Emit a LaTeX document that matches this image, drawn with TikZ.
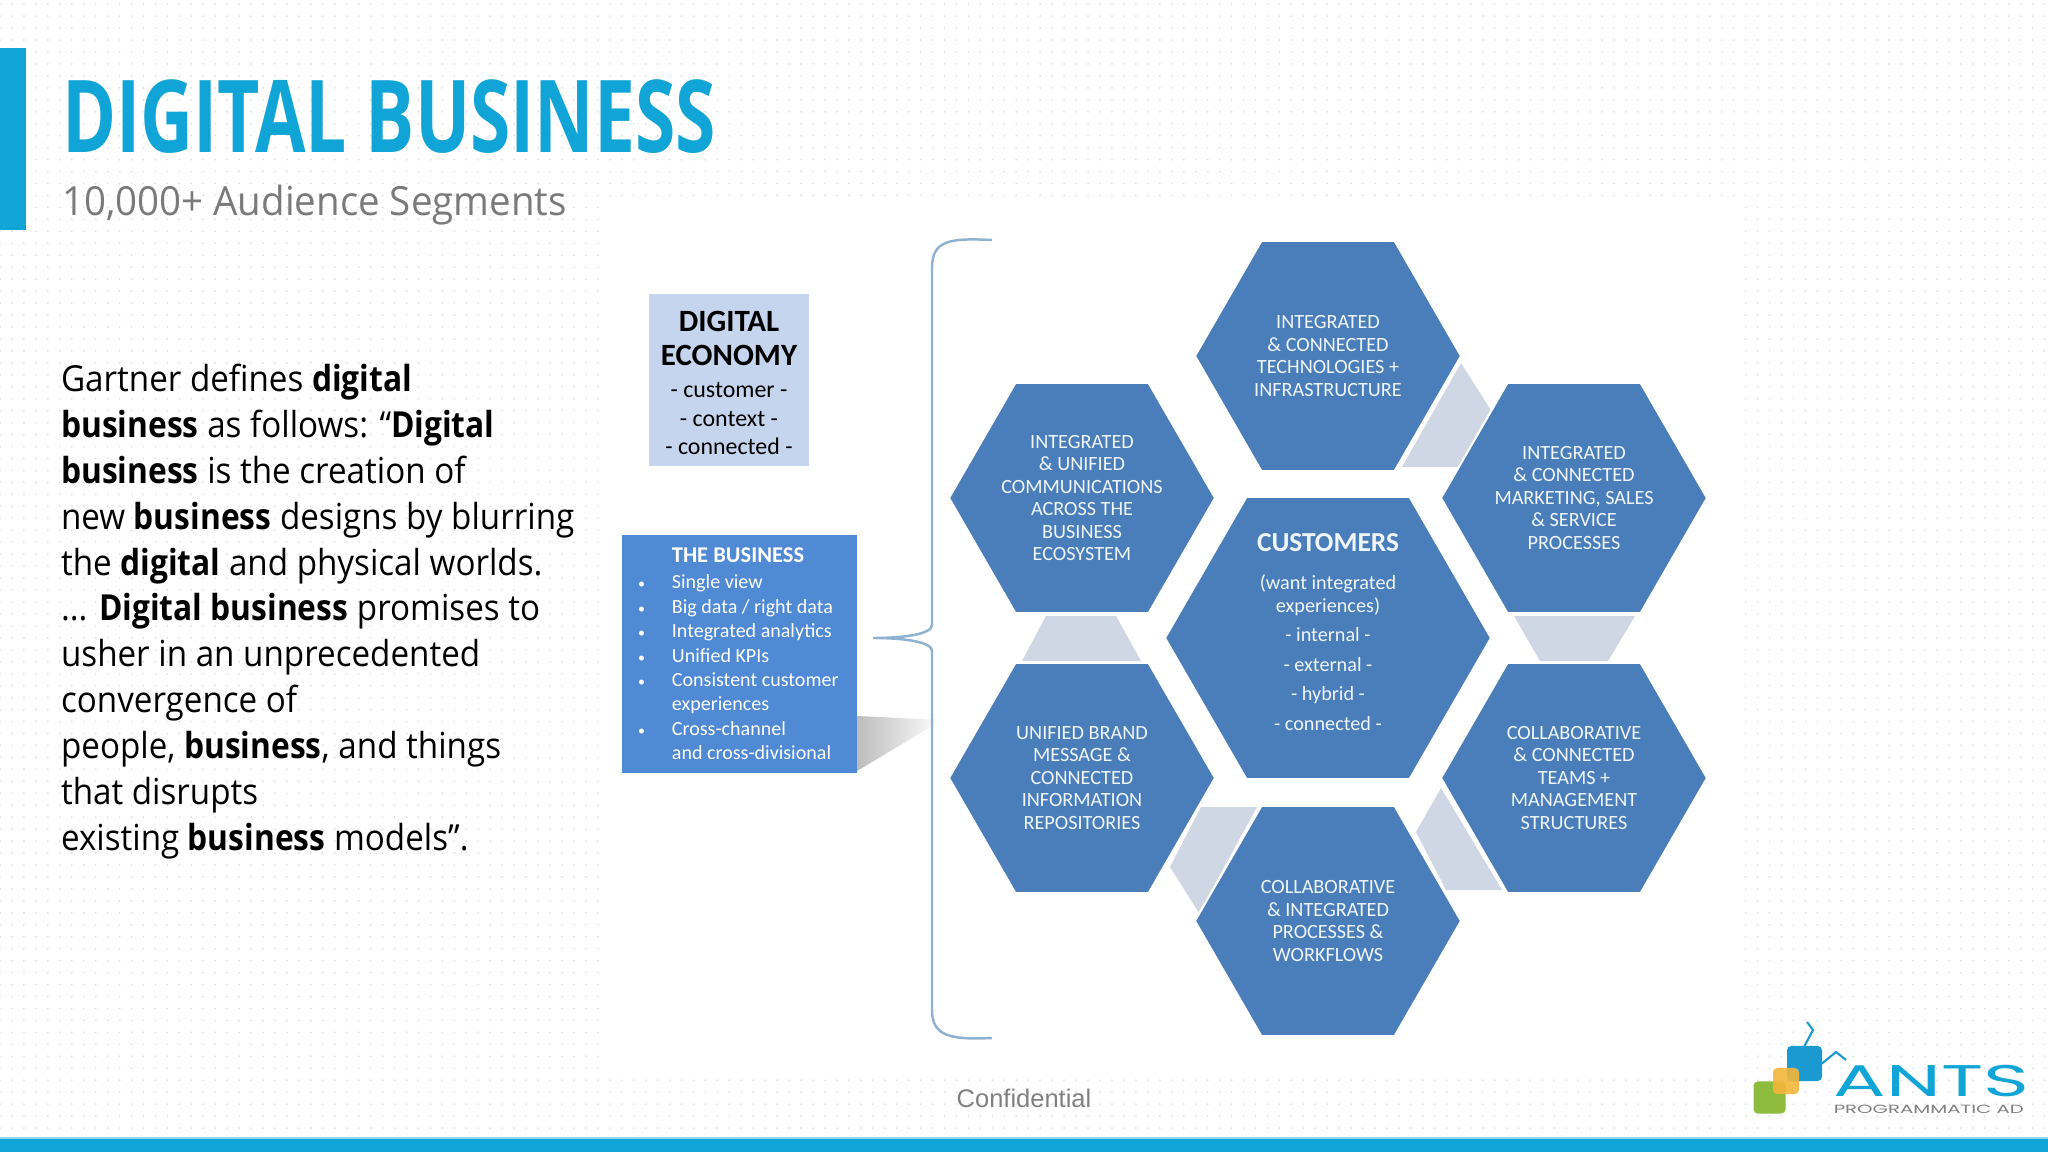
\documentclass[tikz,border=0pt]{standalone}
\usepackage{fontspec}
\usepackage{tikz}
\usetikzlibrary{shapes.geometric,patterns.meta}
\setmainfont{Carlito}
\newfontfamily\openfont[FakeStretch=0.925, BoldFeatures={FakeStretch=0.885}]{Open Sans}
\newfontfamily\subfont[FakeStretch=0.96]{Open Sans}
\newfontfamily\titlefont[FakeStretch=0.728]{Open Sans}
\newfontfamily\logofont{Poppins}
\newfontfamily\arialfont{Liberation Sans}
\definecolor{antsblue}{HTML}{10A5D6}
\definecolor{hexblue}{HTML}{4A7EBB}
\definecolor{boxblue}{HTML}{5089D4}
\definecolor{paleblue}{HTML}{C6D5EE}
\definecolor{linkgrey}{HTML}{CFD7E5}
\definecolor{bracketblue}{HTML}{8FB2D2}
\definecolor{logoblue}{HTML}{1A9AD0}
\definecolor{logogreen}{HTML}{8DBB3C}
\definecolor{logoorange}{HTML}{F4B63A}
\newcommand{\bitem}[1]{\makebox[10.2pt][l]{\hspace{0.6pt}\fontsize{4}{4}\selectfont\textbullet}#1}
\newcommand{\bighead}[1]{{\bfseries\fontsize{8.8}{10.2}\selectfont #1}}
\newcommand{\hexhead}[1]{{\bfseries\fontsize{7.8}{9}\selectfont #1}}
\begin{document}
\begin{tikzpicture}[x = 0.01cm, y = -0.01cm, line width = 0.6pt,
                    hexa/.style = {regular polygon, regular polygon sides = 6,
                                   draw = white, fill = hexblue, text = white!92!hexblue, inner sep = 0pt, outer sep = 0pt,
                                   minimum size = 2.66cm, align = center, font = \fontsize{5.75}{6.4}\selectfont},
                    hexabig/.style = {hexa, minimum size = 3.26cm},
                    hexatext/.style = {inner sep = 0pt, text = white!92!hexblue, align = center, font = \fontsize{5.75}{6.4}\selectfont},
                    linkpoly/.style = {fill = linkgrey},
                    bracket/.style = {draw = bracketblue, line width = 0.7pt},
                    square/.style = {rounded corners = 1.2pt, inner sep = 0pt, outer sep = 0pt}]
      \useasboundingbox (0, 0) rectangle (2048, 1152);
      \fill [white] (0, 0) rectangle (2048, 1152);
      \fill [pattern = {Dots[radius = 0.28pt, distance = 3.4pt]}, pattern color = black!13] (0, 0) rectangle (2048, 1152);
      \fill [white] (607, 202) rectangle (1743, 1071);

      \fill [antsblue] (0, 48) rectangle (26, 230);
      \fill [antsblue!45] (0, 1137) rectangle (2048, 1139);
      \fill [antsblue] (0, 1139) rectangle (2048, 1152);

      \node [anchor = west, inner sep = 0pt, text = antsblue, font = \titlefont\bfseries\fontsize{28.6}{32}\selectfont] (Title) at (61, 117){DIGITAL BUSINESS};
      \node [anchor = west, inner sep = 0pt, text = black!52, font = \subfont\fontsize{11.4}{13}\selectfont] (Subtitle) at (61, 205){10,000+ Audience Segments};
      \node [anchor = north west, inner sep = 0pt, align = left, font = \openfont\fontsize{10.2}{13.05}\selectfont] (Quote) at (60, 363){Gartner defines \textbf{digital}\\
\textbf{business} as follows: “\textbf{Digital}\\
\textbf{business} is the creation of\\
new \textbf{business} designs by blurring\\
the \textbf{digital} and physical worlds.\\
... \textbf{Digital business} promises to\\
usher in an unprecedented\\
convergence of\\
people, \textbf{business}, and things\\
that disrupts\\
existing \textbf{business} models”.};

      \node [fill = paleblue, minimum width = 1.60cm, minimum height = 1.72cm, inner sep = 0pt] (Economy) at (729, 380){};
      \node [inner sep = 0pt, align = center, font = \fontsize{6.8}{8.1}\selectfont] (EconomyText) at (729, 383){\bighead{DIGITAL}\\[1.6pt]\bighead{ECONOMY}\\[1pt]- customer -\\- context -\\- connected -};

      \shade [left color = black!26, right color = white] (857, 716) -- (942, 720) -- (857, 771) -- cycle;
      \node [fill = boxblue, minimum width = 2.35cm, minimum height = 2.38cm, inner sep = 0pt] (Business) at (739.5, 654){};
      \node [text = white, inner sep = 0pt, font = \bfseries\fontsize{6.4}{7}\selectfont] (BusinessHead) at (738, 555){THE BUSINESS};
      \node [text = white, anchor = north west, inner sep = 0pt, align = left, font = \fontsize{5.7}{6.93}\selectfont] (BusinessList) at (635, 574){\bitem{Single view}\\
\bitem{Big data / right data}\\
\bitem{Integrated analytics}\\
\bitem{Unified KPIs}\\
\bitem{Consistent customer}\\
\hspace*{10.2pt}experiences\\
\bitem{Cross-channel}\\
\hspace*{10.2pt}and cross-divisional};

      \coordinate (BraceA) at (992, 240);
      \coordinate (BraceB) at (932, 268);
      \coordinate (BraceC) at (932, 625);
      \coordinate (BraceTip) at (873, 638);
      \coordinate (BraceD) at (932, 651);
      \coordinate (BraceE) at (932, 1010);
      \coordinate (BraceF) at (992, 1038);
      \draw [bracket] (BraceA) .. controls (950, 238) and (932, 240) .. (BraceB) -- (BraceC) .. controls (932, 634) and (905, 638) .. (BraceTip) .. controls (905, 638) and (932, 642) .. (BraceD) -- (BraceE) .. controls (932, 1036) and (950, 1040) .. (BraceF);

      \fill [linkpoly] (1461, 363) -- (1492, 412) -- (1460, 467) -- (1402, 467) -- cycle;
      \fill [linkpoly] (1514, 616) -- (1635, 616) -- (1608, 661) -- (1540, 661) -- cycle;
      \fill [linkpoly] (1046, 616) -- (1116, 616) -- (1141, 661) -- (1022, 661) -- cycle;
      \fill [linkpoly] (1201, 807) -- (1257, 807) -- (1199, 913) -- (1170, 867) -- cycle;
      \fill [linkpoly] (1441, 788) -- (1502, 890) -- (1446, 890) -- (1416, 832) -- cycle;

      \node [hexa] (Tech) at (1328, 356){INTEGRATED\\\& CONNECTED\\TECHNOLOGIES +\\INFRASTRUCTURE};
      \node [hexa] (Comms) at (1082, 498){INTEGRATED\\\& UNIFIED\\COMMUNICATIONS\\ACROSS THE\\BUSINESS\\ECOSYSTEM};
      \node [hexa] (Marketing) at (1574, 498){INTEGRATED\\\& CONNECTED\\MARKETING, SALES\\\& SERVICE\\PROCESSES};
      \node [hexa] (Brand) at (1082, 778){UNIFIED BRAND\\MESSAGE \&\\CONNECTED\\INFORMATION\\REPOSITORIES};
      \node [hexa] (Teams) at (1574, 778){COLLABORATIVE\\\& CONNECTED\\TEAMS +\\MANAGEMENT\\STRUCTURES};
      \node [hexa] (Workflows) at (1328, 921){COLLABORATIVE\\\& INTEGRATED\\PROCESSES \&\\WORKFLOWS};
      \node [hexabig] (Customers) at (1328, 638){};
      \node [hexatext] (CustomersText) at (1328, 632){\hexhead{CUSTOMERS}\\[4.5pt](want integrated\\experiences)\\[2pt]- internal -\\[2pt]- external -\\[2pt]- hybrid -\\[2pt]- connected -};

      \node [text = black!50, inner sep = 0pt, font = \arialfont\fontsize{7.25}{9}\selectfont] (Confidential) at (1024, 1098){Confidential};

      \node [square, fill = logoblue, minimum size = 0.35cm] (LogoBlue) at (1804.5, 1063.5){};
      \node [square, fill = logogreen, minimum size = 0.32cm] (LogoGreen) at (1769.5, 1097.5){};
      \node [square, fill = logoorange, fill opacity = 0.9, minimum size = 0.26cm] (LogoOrange) at (1786, 1081){};
      \coordinate (AntennaA) at (1807, 1022);
      \coordinate (AntennaB) at (1813, 1030);
      \coordinate (AntennaC) at (1846, 1060);
      \coordinate (AntennaD) at (1836, 1052);
      \draw [logoblue] (LogoBlue.north) -- (AntennaB) -- (AntennaA);
      \draw [logoblue] (LogoBlue.east) -- (AntennaD) -- (AntennaC);
      \node [anchor = west, inner sep = 0pt, text = antsblue, text height = 8.6pt, text depth = 0pt, xscale = 1.76, font = \logofont\fontsize{12.6}{14}\selectfont] (LogoAnts) at (1832, 1081){ANTS};
      \node [anchor = west, inner sep = 0pt, text = black!50, text height = 2.3pt, text depth = 0pt, xscale = 1.65, font = \logofont\fontsize{3.4}{4}\selectfont] (LogoAd) at (1832, 1109){PROGRAMMATIC AD};
\end{tikzpicture}
\end{document}
